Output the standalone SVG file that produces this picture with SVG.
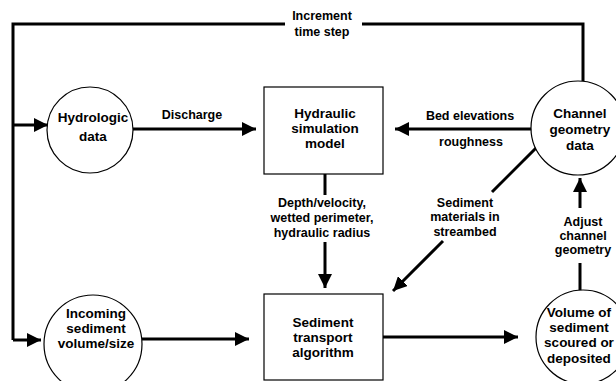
<svg xmlns="http://www.w3.org/2000/svg" width="616" height="381" viewBox="0 0 616 381">
<defs>
<marker id="ah" markerWidth="14" markerHeight="14" viewBox="0 0 14 14" refX="14" refY="7" orient="auto" markerUnits="userSpaceOnUse"><path d="M0,0 L14,7 L0,14 z" fill="#000"/></marker>
<style>
.node{fill:#fff;stroke:#000;stroke-width:1.2}
.t{font-family:"Liberation Sans",Arial,sans-serif;font-weight:bold;font-size:13.5px;text-anchor:middle;fill:#000}
.bt{font-family:"Liberation Sans",Arial,sans-serif;font-weight:bold;font-size:13.5px;text-anchor:middle;fill:#000}
.lb{font-family:"Liberation Sans",Arial,sans-serif;font-weight:bold;font-size:12.5px;text-anchor:middle;fill:#000}
.c{fill:none;stroke:#000;stroke-width:3}
.a{fill:none;stroke:#000;stroke-width:3;marker-end:url(#ah)}
</style>
</defs>
<rect width="616" height="381" fill="#fff"/>
<g id="connectors">
<polyline class="c" points="285,24 13,24 13,340"/>
<polyline class="c" points="362,24 583,24 583,81"/>
<line class="a" x1="13" y1="125" x2="48" y2="125"/>
<line class="a" x1="13" y1="340" x2="41" y2="340"/>
<line class="a" x1="133" y1="129" x2="256" y2="129"/>
<line class="a" x1="534" y1="129" x2="395" y2="129"/>
<line class="c" x1="325" y1="174" x2="325" y2="195"/>
<line class="a" x1="325" y1="242" x2="325" y2="288"/>
<line class="c" x1="537" y1="147" x2="492" y2="192"/>
<line class="a" x1="443" y1="241" x2="393" y2="291"/>
<line class="a" x1="142" y1="339" x2="249" y2="339"/>
<line class="a" x1="383" y1="337" x2="518" y2="337"/>
<line class="c" x1="580" y1="290" x2="580" y2="263"/>
<line class="a" x1="580" y1="208" x2="580" y2="178"/>
</g>
<g id="labels">
<text class="lb" x="322" y="20">Increment</text>
<text class="lb" x="322" y="36">time step</text>
<text class="lb" x="192" y="119">Discharge</text>
<text class="lb" x="470" y="120">Bed elevations</text>
<text class="lb" x="471" y="146">roughness</text>
<text class="lb" x="322" y="207">Depth/velocity,</text>
<text class="lb" x="322" y="222">wetted perimeter,</text>
<text class="lb" x="322" y="237">hydraulic radius</text>
<text class="lb" x="465" y="207">Sediment</text>
<text class="lb" x="465" y="221">materials in</text>
<text class="lb" x="465" y="236">streambed</text>
<text class="lb" x="583" y="226">Adjust</text>
<text class="lb" x="583" y="240">channel</text>
<text class="lb" x="583" y="254">geometry</text>
</g>
<g id="hydrologic">
<circle class="node" cx="90" cy="130" r="43"/>
<text class="t" x="93" y="122">Hydrologic</text>
<text class="t" x="93" y="141">data</text>
</g>
<g id="hydraulic">
<rect class="node" x="264" y="87" width="119" height="87"/>
<text class="bt" x="325" y="118">Hydraulic</text>
<text class="bt" x="325" y="133">simulation</text>
<text class="bt" x="325" y="148">model</text>
</g>
<g id="channel">
<circle class="node" cx="578" cy="128" r="47"/>
<text class="t" x="580" y="118">Channel</text>
<text class="t" x="580" y="134">geometry</text>
<text class="t" x="580" y="150">data</text>
</g>
<g id="incoming">
<circle class="node" cx="93" cy="344" r="49"/>
<text class="t" x="96" y="318">Incoming</text>
<text class="t" x="96" y="333">sediment</text>
<text class="t" x="96" y="348">volume/size</text>
</g>
<g id="sediment">
<rect class="node" x="264" y="294" width="119" height="86"/>
<text class="bt" x="323" y="327">Sediment</text>
<text class="bt" x="323" y="342">transport</text>
<text class="bt" x="323" y="357">algorithm</text>
</g>
<g id="volume">
<circle class="node" cx="583" cy="337" r="47"/>
<text class="t" x="579" y="317">Volume of</text>
<text class="t" x="579" y="332">sediment</text>
<text class="t" x="579" y="347">scoured or</text>
<text class="t" x="579" y="363">deposited</text>
</g>
</svg>
